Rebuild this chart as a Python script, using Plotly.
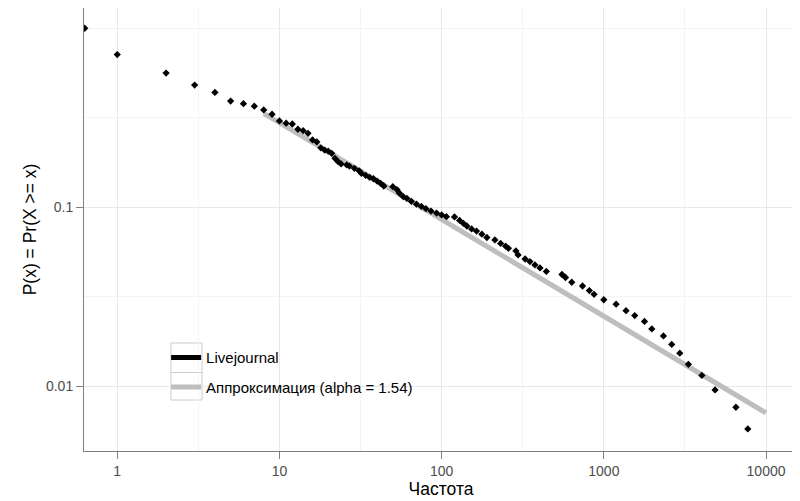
import plotly.graph_objects as go

# Empirical CCDF (Livejournal); first point is x=0 drawn at the left panel edge
freq = [0.63, 1, 2, 3, 4, 5, 6, 7, 8, 9,
        10, 11, 12, 13, 14, 15, 16, 17, 18, 19, 20, 21, 22, 23, 24,
        26, 27, 29, 31, 32, 34, 36, 38, 40, 42,
        44, 50, 53, 55, 58, 61, 65, 70, 75, 80,
        86, 93, 100, 107, 120, 129, 136, 143, 153, 164,
        177, 190, 213, 231, 248, 258, 287, 296, 327, 350,
        376, 404, 442, 552, 580, 634, 739, 814, 870, 999,
        1190, 1370, 1550, 1780, 1975, 2330, 2620, 2940, 3320, 4020,
        4850, 6520, 7720]
ccdf = [1.0, 0.713, 0.562, 0.482, 0.438, 0.392, 0.379, 0.367, 0.350, 0.331,
        0.304, 0.295, 0.292, 0.273, 0.268, 0.259, 0.238, 0.232, 0.215, 0.209,
        0.206, 0.2004, 0.188, 0.180, 0.1747,
        0.1725, 0.170, 0.1652, 0.160, 0.155, 0.151, 0.147, 0.1445, 0.1403, 0.1363,
        0.1316, 0.1304, 0.1258, 0.1199, 0.1147, 0.1124, 0.1081, 0.1042, 0.1012, 0.0983,
        0.0954, 0.0930, 0.0907, 0.0887, 0.0884, 0.0845, 0.0815, 0.0787, 0.0758, 0.0737,
        0.0709, 0.0679, 0.0658, 0.0629, 0.0607, 0.0591, 0.0571, 0.0543, 0.0515, 0.0498,
        0.0477, 0.0459, 0.0439, 0.0422, 0.0406, 0.0382, 0.0364, 0.0343, 0.0327, 0.0305,
        0.0288, 0.0265, 0.0249, 0.0231, 0.02097, 0.01916, 0.01718, 0.01534, 0.01331, 0.01153,
        0.00957, 0.00766, 0.0058]

# Power-law fit (alpha = 1.54)
fit_x = [8, 10000]
fit_y = [0.335, 0.00712]

x_ticks = [1, 10, 100, 1000, 10000]
x_ticktext = ["1", "10", "100", "1000", "10000"]
x_minor = [3.1623, 31.623, 316.23, 3162.3]
y_ticks = [0.01, 0.1]
y_ticktext = ["0.01", "0.1"]
y_minor = [1, 0.31623, 0.031623]

series_names = ["Livejournal", "Аппроксимация (alpha = 1.54)"]

FONT = "Liberation Sans, Arial, sans-serif"

fig = go.Figure()

# legend entry for the points series (drawn as a thick line, as in the original)
fig.add_trace(go.Scatter(x=[None], y=[None], mode="lines", name=series_names[0],
                         line=dict(color="black", width=5), legendgroup="a"))

fig.add_trace(go.Scatter(x=fit_x, y=fit_y, mode="lines", name=series_names[1],
                         line=dict(color="#bebebe", width=5), legendgroup="b"))

fig.add_trace(go.Scatter(x=freq, y=ccdf, mode="markers", showlegend=False,
                         name=series_names[0],
                         marker=dict(symbol="diamond", size=5.6, color="black",
                                     line=dict(width=0))))

axis_common = dict(
    type="log",
    showline=True, linecolor="#7f7f7f", linewidth=1, mirror=True,
    ticks="outside", ticklen=7, tickcolor="#7f7f7f", tickwidth=1,
    showgrid=True, gridcolor="#e8e8e8", gridwidth=1,
    zeroline=False,
    tickfont=dict(family=FONT, size=14, color="#4d4d4d"),
)

fig.update_xaxes(
    **axis_common,
    range=[-0.205, 4.197],
    tickvals=x_ticks, ticktext=x_ticktext,
    minor=dict(tickvals=x_minor, showgrid=True, gridcolor="#f4f4f4", ticklen=0),
    title=dict(text="Частота", font=dict(family=FONT, size=17.5, color="black"),
               standoff=4),
)
fig.update_yaxes(
    **axis_common,
    range=[-2.36, 0.113],
    tickvals=y_ticks, ticktext=y_ticktext,
    minor=dict(tickvals=y_minor, showgrid=True, gridcolor="#f4f4f4", ticklen=0),
    title=dict(text="P(x) = Pr(X >= x)", font=dict(family=FONT, size=17.5, color="black"),
               standoff=4),
)

# legend key boxes (white squares with grey border, as in ggplot)
key_box = dict(type="rect", xref="paper", yref="paper", layer="between",
               line=dict(color="#cccccc", width=1), fillcolor="white")
shapes = [
    dict(key_box, x0=0.1218, x1=0.1653, y0=0.1772, y1=0.2438),
    dict(key_box, x0=0.1218, x1=0.1653, y0=0.1151, y1=0.1772),
]

fig.update_layout(
    width=792, height=493,
    margin=dict(l=76, r=2, t=0, b=50, autoexpand=False),
    paper_bgcolor="white", plot_bgcolor="white",
    font=dict(family=FONT),
    shapes=shapes,
    legend=dict(
        x=0.115, y=0.108, xanchor="left", yanchor="bottom",
        bgcolor="rgba(0,0,0,0)", borderwidth=0,
        font=dict(family=FONT, size=15, color="black"),
        tracegroupgap=7, itemwidth=30,
    ),
)

fig.write_html("out.html")
